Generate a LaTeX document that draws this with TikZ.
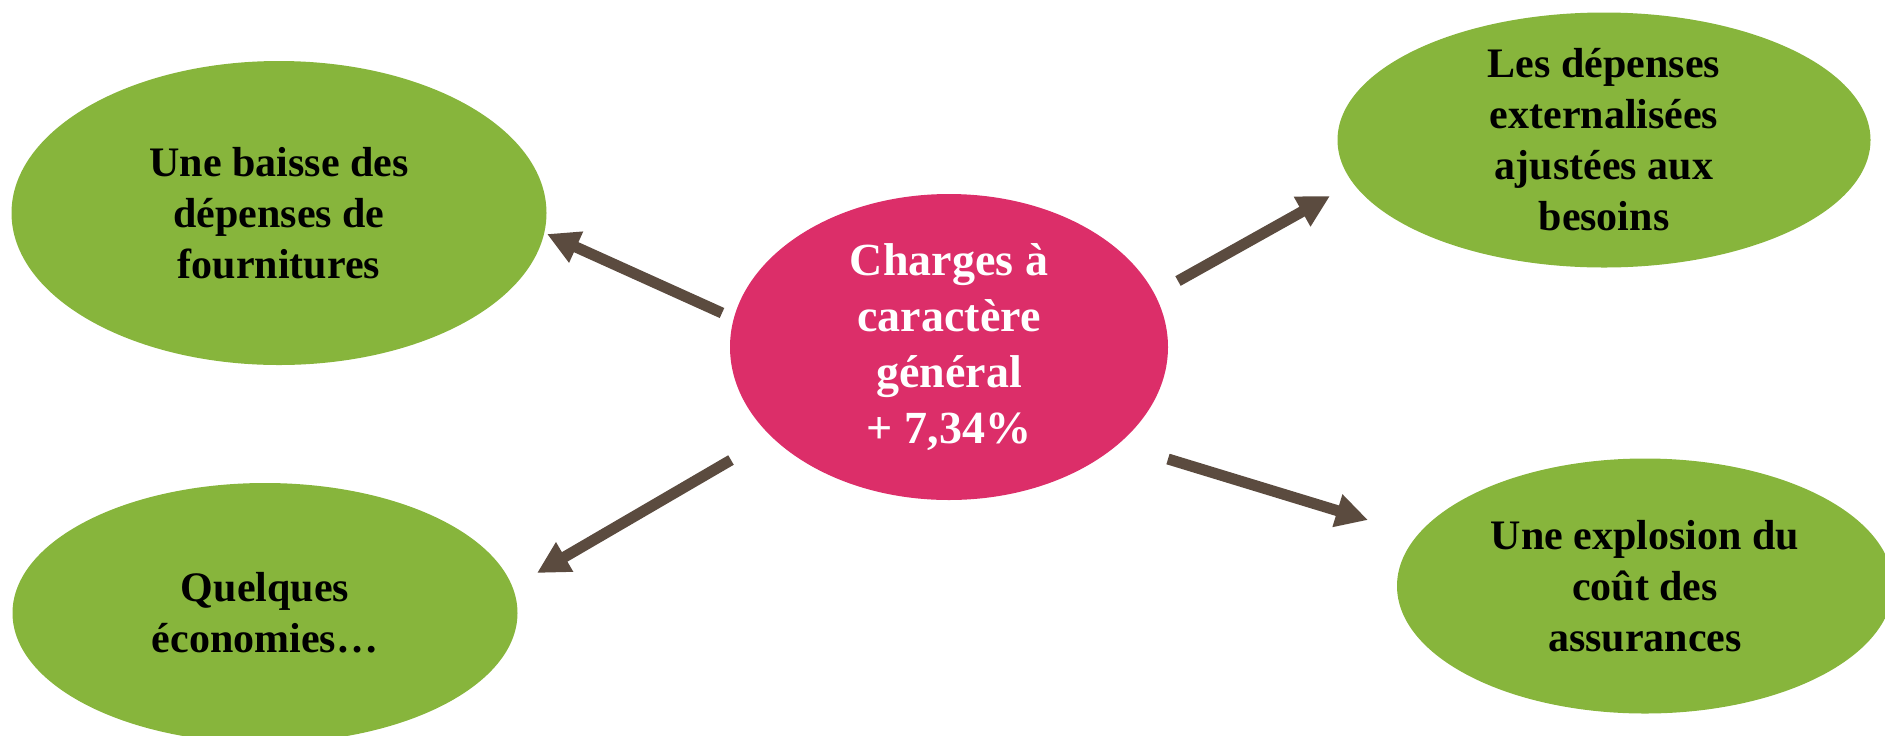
\documentclass[tikz,border=0pt]{standalone}
\usepackage{fontspec}
\setmainfont{Liberation Serif}
\usetikzlibrary{shapes,arrows.meta}
\definecolor{vert}{HTML}{87B53C}
\definecolor{rose}{HTML}{DC2E69}
\definecolor{brun}{HTML}{5B4B3F}

\tikzset{
  bulle/.style={ellipse, inner sep=-8pt, align=center,
    font=\bfseries\fontsize{21}{25.5}\selectfont},
  verte/.style={bulle, fill=vert, text=black},
  centre/.style={bulle, fill=rose, text=white,
    font=\bfseries\fontsize{23}{28}\selectfont},
  fleche/.style={brun, line width=5.5pt, -{Triangle[length=16pt,width=16pt]}}
}

\begin{document}
\begin{tikzpicture}[x=0.5pt,y=-0.5pt]
\clip (0,0) rectangle (1885,735);

  % bulles
\node[centre, minimum width=219pt, minimum height=153pt] at (949,347) (c)
  {Charges à\\caractère\\général\\+ 7,34\%};
\node[verte, minimum width=267.5pt, minimum height=152pt] at (279,213) (hg)
  {Une baisse des\\dépenses de\\fournitures};
\node[verte, minimum width=252.5pt, minimum height=130pt] at (265,613) (bg)
  {Quelques\\économies…};
\node[verte, minimum width=266.5pt, minimum height=127.5pt] at (1604,140) (hd)
  {Les dépenses\\externalisées\\ajustées aux\\besoins};
\node[verte, minimum width=248pt, minimum height=127.5pt] at (1645,586) (bd)
  {Une explosion du\\coût des\\assurances};

% extrémités des flèches
\coordinate (s1) at (722,313);
\coordinate (e1) at (547,234);
\coordinate (s2) at (731,460);
\coordinate (e2) at (537,573);
\coordinate (s3) at (1178,281);
\coordinate (e3) at (1330,196);
\coordinate (s4) at (1168,459);
\coordinate (e4) at (1368,520);

  \draw[fleche] (s1) -- (e1);
  \draw[fleche] (s2) -- (e2);
  \draw[fleche] (s3) -- (e3);
  \draw[fleche] (s4) -- (e4);
\end{tikzpicture}
\end{document}
